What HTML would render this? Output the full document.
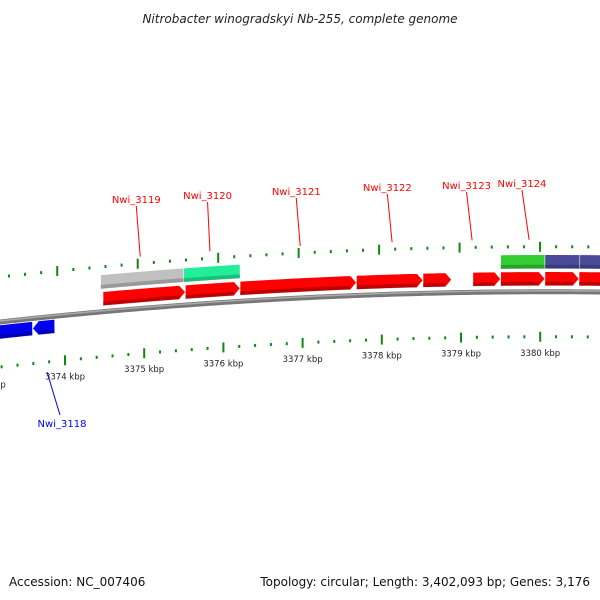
<!DOCTYPE html>
<html><head><meta charset="utf-8"><style>
html,body{margin:0;padding:0;background:#fff}
svg{display:block;font-family:"DejaVu Sans","Liberation Sans",sans-serif}
</style></head><body>
<svg id="c" width="600" height="600" viewBox="0 0 600 600">
<text x="300" y="23" text-anchor="middle" font-size="12" font-style="italic" fill="#222">Nitrobacter winogradskyi Nb-255, complete genome</text>
<text x="9" y="586" font-size="12" fill="#111">Accession: NC_007406</text>
<text x="590" y="586" text-anchor="end" font-size="12" fill="#111">Topology: circular; Length: 3,402,093 bp; Genes: 3,176</text>
<g id="g"></g>
</svg>
<script>
// data (kbp)
const tickKbp=[3373,3374,3375,3376,3377,3378,3379,3380,3381];
const tickLabels=["3373 kbp","3374 kbp","3375 kbp","3376 kbp","3377 kbp","3378 kbp","3379 kbp","3380 kbp","3381 kbp"];
const fwdStart=[3374.48,3375.52,3376.21,3377.68,3378.52,3379.15,3379.50,3380.06,3380.49];
const fwdEnd=[3375.52,3376.21,3377.68,3378.52,3378.88,3379.50,3380.06,3380.49,3381.2];
const cogStart=[3374.45,3375.50,3379.50,3380.06,3380.50];
const cogEnd=[3375.50,3376.21,3380.06,3380.50,3381.2];
const cogColor=["#c0c0c0","#22ee99","#33cc33","#4a4a99","#4a4a99"];
const revStart=[3373.1,3373.59];
const revEnd=[3373.59,3373.87];
const labelNames=["Nwi_3119","Nwi_3120","Nwi_3121","Nwi_3122","Nwi_3123","Nwi_3124"];
const labelKbp=[3374.95,3375.83,3376.97,3378.13,3379.14,3379.86];
const labelTextKbp=[3374.9,3375.8,3376.92,3378.07,3379.07,3379.77];
const labelTextY=[203,199,195,191,189,187];
const revLabel=["Nwi_3118"];

const X=k=>65+(k-3374)*79.2;
const Y=x=>322-0.11*x+0.0001*x*x;
const NS="http://www.w3.org/2000/svg";
const G=document.getElementById('g');
function el(t,a){const e=document.createElementNS(NS,t);for(const k in a)e.setAttribute(k,a[k]);G.appendChild(e);return e;}
function band(x0,x1,off,h){let top=[],bot=[];for(let i=0;i<=10;i++){const x=x0+(x1-x0)*i/10;top.push(x+','+(Y(x)+off-h/2));bot.unshift(x+','+(Y(x)+off+h/2));}return [top,bot];}

// backbone
let d='';for(let x=-5;x<=605;x+=5)d+=(x<0?'M':'L')+x+','+Y(x);
let b=el('path',{d:d,stroke:'#777',fill:'none','stroke-width':5});


let b2=el('path',{d:d,stroke:'#aaa',fill:'none','stroke-width':1.5,transform:'translate(0,-1)'});



// ticks
for(let k=3373;k<=3381.01;k+=0.2){
  const major=Math.abs(k-Math.round(k))<0.01;
  const x=X(k);
  for(const s of [-1,1]){
    const xx=s<0?x-(550-x)*0.016:x;const yc=Y(xx)+s*45;
    const t=el('rect',{x:xx-1,y:yc-(major?5:1.5),width:2,height:major?10:3,fill:'#118811'});
    
    
  }
}
tickKbp.forEach((k,i)=>{const x=X(k);const t=el('text',{x:x,y:Y(x)+64,'font-size':8.5,'text-anchor':'middle',fill:'#222'});t.textContent=tickLabels[i];

});

// COG band
cogStart.forEach((s,i)=>{const x0=X(s),x1=X(cogEnd[i]);const [t,bt]=band(x0,x1,-30,14);
const p=el('polygon',{points:t.concat(bt).join(' '),fill:cogColor[i],stroke:'#fff','stroke-width':0.5});


const [t2,b3]=band(x0,x1,-25,4);const q=el('polygon',{points:t2.concat(b3).join(' '),fill:'#000',opacity:0.2});

});

// forward genes
function gene(x0,x1,off,col,fwd,name){const h=14,ah=6;let pts=[];
 if(fwd){const [t,bt]=band(x0,x1-ah,off,h);pts=t.concat([x1+','+(Y(x1)+off)]).concat(bt);}
 else{const [t,bt]=band(x0+ah,x1,off,h);pts=[x0+','+(Y(x0)+off)].concat(t).concat(bt);}
 const p=el('polygon',{points:pts.join(' '),fill:col,stroke:'#fff','stroke-width':0.6});
 
 
 const [t2,b3]=band(fwd?x0:x0+ah,fwd?x1-ah:x1,off+5,4);const q=el('polygon',{points:t2.concat(b3).join(' '),fill:'#000',opacity:0.25});
 
 }
fwdStart.forEach((s,i)=>gene(X(s),X(fwdEnd[i]),-13,'#ff0000',true,'forward-gene'));
revStart.forEach((s,i)=>gene(X(s),X(revEnd[i]),10,'#0000ee',false,'reverse-gene'));

// labels
labelNames.forEach((n,i)=>{const xe=X(labelKbp[i]);const xt=X(labelTextKbp[i]);
const l=el('line',{x1:xt,y1:labelTextY[i]+3,x2:xe,y2:Y(xe)-52,stroke:'#ff0000','stroke-width':1});


const t=el('text',{x:xt,y:labelTextY[i],'font-size':10,'text-anchor':'middle',fill:'#ff0000'});t.textContent=n;

});
{const l=el('line',{x1:47,y1:372,x2:60,y2:415,stroke:'#0000ee','stroke-width':1});


const t=el('text',{x:62,y:427,'font-size':10,'text-anchor':'middle',fill:'#0000ee'});t.textContent=revLabel[0];

}
</script>
</body></html>
